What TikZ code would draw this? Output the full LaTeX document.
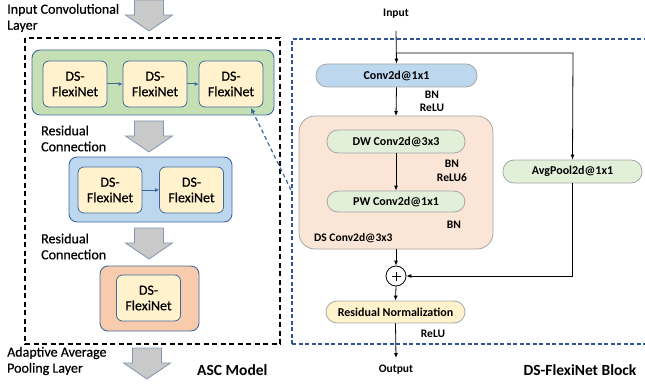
\documentclass[tikz,border=0pt]{standalone}
\usepackage{fontspec}
\setmainfont{Carlito}
\newfontfamily\midweight{Carlito}[FakeBold=0.5]
\usetikzlibrary{arrows.meta}

\definecolor{edgeblue}{HTML}{41689F}
\definecolor{dsfill}{HTML}{FFF2CC}
\definecolor{grnfill}{HTML}{C5E0B4}
\definecolor{blufill}{HTML}{BDD7EE}
\definecolor{orgfill}{HTML}{F8CBAD}
\definecolor{palegrn}{HTML}{E2F0D9}
\definecolor{paleorg}{HTML}{FBE5D6}
\definecolor{arrowgray}{HTML}{C9C9C9}
\definecolor{arrowedge}{HTML}{8497B0}
\definecolor{boxgray}{HTML}{A6A6A6}
\definecolor{dashblue}{HTML}{2F5597}

\tikzset{
  lbl/.style={anchor=west, align=left, inner sep=0pt, font=\fontsize{14}{16}\selectfont\midweight},
  title/.style={inner sep=0pt, font=\fontsize{15.5}{18}\selectfont\bfseries},
  small/.style={inner sep=0pt, align=center, font=\fontsize{11.5}{13.5}\selectfont\bfseries},
  groupbox/.style={draw=edgeblue, line width=0.9pt, rounded corners=8pt},
  dsbox/.style={draw=edgeblue, line width=0.8pt, fill=dsfill, rounded corners=6pt,
    minimum width=64pt, minimum height=46pt, inner sep=0pt, align=center,
    font=\fontsize{14}{15.5}\selectfont\midweight},
  stadium/.style={draw=boxgray, line width=0.8pt, rounded corners=11pt,
    minimum height=23pt, inner sep=0pt, font=\fontsize{12}{14}\selectfont\bfseries},
  flow/.style={-{Latex[length=5pt,width=4pt]}, line width=0.8pt},
  link/.style={-{Latex[length=4pt,width=4pt]}, draw=edgeblue, line width=1pt},
  pics/downarrow/.style={code={
    \draw[fill=arrowgray, draw=arrowedge, line width=0.8pt]
      (-14.5,0) -- (14.5,0) -- (14.5,15) -- (23.5,15) -- (0,31) -- (-23.5,15) -- (-14.5,15) -- cycle;
  }}
}

\begin{document}
\begin{tikzpicture}[x=1pt, y=-1pt]
\useasboundingbox (0,0) rectangle (645,385);

% ---------------- ASC model (left) ----------------
\node[lbl] (inlbl) at (7,18) {Input Convolutional\\Layer};
\pic at (149,0) {downarrow};

\draw[dashed, line width=1.1pt, dash pattern=on 5pt off 3.5pt] (25,38) rectangle (280,344);

% first stage: three blocks
\draw[groupbox, fill=grnfill] (32,50) rectangle (274,115);
\node[dsbox] (a1) at (75,84) {DS-\\FlexiNet};
\node[dsbox] (a2) at (155,84) {DS-\\FlexiNet};
\node[dsbox] (a3) at (231,84) {DS-\\FlexiNet};
\draw[link] (a1) -- (a2);
\draw[link] (a2) -- (a3);

\node[lbl] (res1) at (41,138.5) {Residual\\Connection};
\pic at (149,121) {downarrow};

% second stage: two blocks
\draw[groupbox, fill=blufill] (69,157) rectangle (232,222);
\node[dsbox] (b1) at (110,190) {DS-\\FlexiNet};
\node[dsbox] (b2) at (191.5,190) {DS-\\FlexiNet};
\draw[link] (b1) -- (b2);

\node[lbl] (res2) at (41,246.5) {Residual\\Connection};
\pic at (149,228) {downarrow};

% third stage: one block
\draw[groupbox, fill=orgfill] (100,266) rectangle (199,331);
\node[dsbox] (c1) at (148.5,298) {DS-\\FlexiNet};

\node[lbl] (poollbl) at (7,361) {Adaptive Average\\Pooling Layer};
\pic at (147,348) {downarrow};
\node[title, anchor=west] (asc) at (197,370) {ASC Model};

% ---------------- DS-FlexiNet block (right) ----------------
\draw[dashblue, line width=1.1pt, dash pattern=on 4pt off 2.5pt] (292,344) -- (292,39) -- (645,39);
\draw[dashblue, line width=1.1pt, dash pattern=on 4pt off 2.5pt] (292,344) -- (645,344);

\coordinate (detail) at (291,190);
\draw[link, line width=1.2pt, dash pattern=on 4pt off 3pt, -{Latex[length=5pt,width=5pt]}] (detail) -- (251,108);

\node[small] (input) at (396,14) {Input};
\coordinate (inTop) at (396,31);
\coordinate (split) at (396,53);
\coordinate (splitR) at (573,53);

\node[stadium, fill=blufill, minimum width=161pt] (conv) at (396.5,75.5) {Conv2d@1x1};
\node[small] (bnrelu) at (432,101.5) {BN\\ReLU};

\draw[draw=boxgray, line width=0.8pt, fill=paleorg, rounded corners=16pt] (299,116) rectangle (493,249);
\coordinate (dsTop) at (396,116);
\coordinate (dsBot) at (396,249);
\node[stadium, fill=palegrn, minimum width=138pt] (dw) at (396,141.5) {DW Conv2d@3x3};
\node[small] (bnrelu6) at (452,171) {BN\\ReLU6};
\node[stadium, fill=palegrn, minimum width=138pt, minimum height=21pt] (pw) at (396,201.5) {PW Conv2d@1x1};
\node[small] (bn2) at (454,225) {BN};
\node[small, anchor=west] (dslbl) at (314,238) {DS Conv2d@3x3};

\node[stadium, fill=palegrn, minimum width=139pt] (avg) at (572.5,171.5) {AvgPool2d@1x1};

\node[draw, circle, line width=0.8pt, minimum size=20pt, inner sep=0pt] (add) at (396,276) {};
\draw[line width=0.7pt] (391.5,276) -- (400.5,276) (396,271.5) -- (396,280.5);

\node[stadium, fill=dsfill, minimum width=139pt, minimum height=22pt] (rn) at (395.5,312) {Residual Normalization};
\node[small] (relu) at (433,334) {ReLU};
\coordinate (outEnd) at (396,358);
\node[small] (output) at (396,370) {Output};
\node[title] (blk) at (580,370) {DS-FlexiNet Block};

% connectors
\draw[flow] (inTop) -- (conv.north);
\draw[flow] (split) -- (splitR) -- (avg.north);
\draw[flow] (conv.south) -- (dsTop);
\draw[flow] (dw.south) -- (pw.north);
\draw[flow] (dsBot) -- (add.north);
\draw[flow] (avg.south) |- (add.east);
\draw[flow] (add.south) -- (rn.north);
\draw[flow] (rn.south) -- (outEnd);
\end{tikzpicture}
\end{document}
